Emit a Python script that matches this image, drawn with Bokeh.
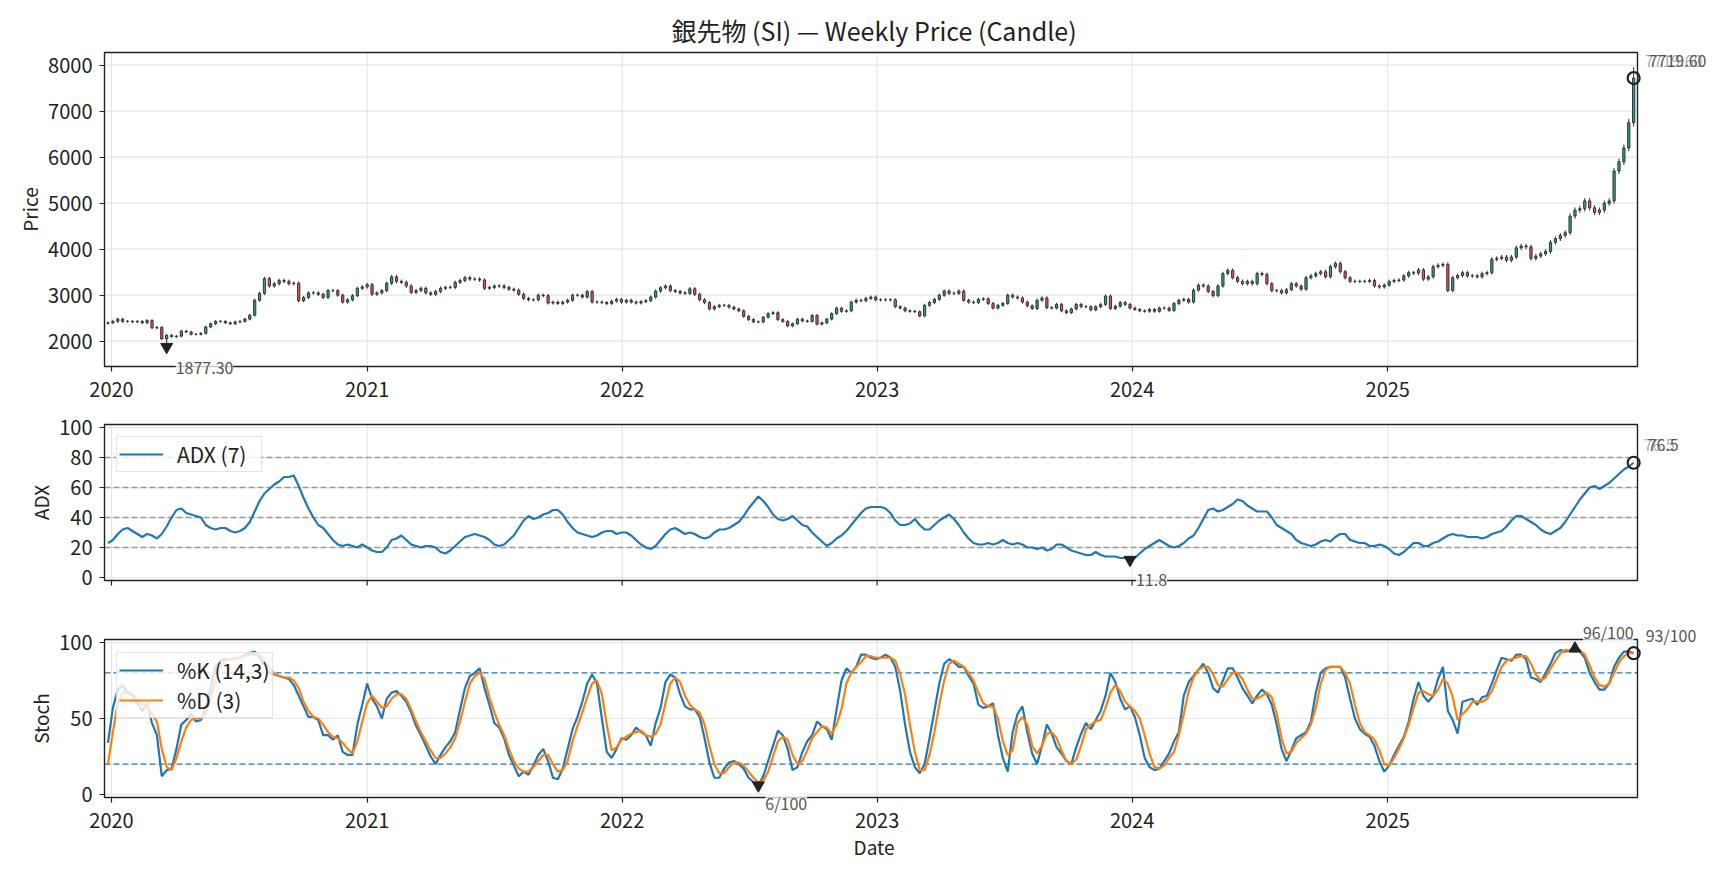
import math
import pandas as pd
from bokeh.plotting import figure
from bokeh.models import (Range1d, FixedTicker, Label, Legend, LegendItem, BoxAnnotation,
                          ColumnDataSource, DatetimeTickFormatter)
from bokeh.layouts import column
from bokeh.embed import file_html
from bokeh.resources import INLINE

FONT = "Noto Sans CJK JP"
TITLE = "銀先物 (SI) — Weekly Price (Candle)"
START_DATE = "2019-12-27"
year_labels = ["2020", "2021", "2022", "2023", "2024", "2025"]
price_ticks = [2000, 3000, 4000, 5000, 6000, 7000, 8000]
adx_ticks = [0, 20, 40, 60, 80, 100]
adx_levels = [20, 40, 60, 80]
stoch_ticks = [0, 50, 100]
stoch_levels = [20, 80]

# weekly closes
close = [
    2400, 2430, 2480, 2430, 2430, 2420, 2430, 2400, 2450, 2290, 2300,
    2050, 2130,
    2100, 2110, 2220, 2200, 2150, 2150, 2170, 2310, 2380, 2430, 2430, 2400, 2380, 2420, 2430, 2480, 2565,
    2890, 3040, 3360, 3200, 3250, 3320, 3300, 3250, 3260,
    2880, 2950, 3050, 3050, 3020, 2950, 3100, 3100, 3000, 2850, 2900, 2990, 3150, 3180, 3230,
    3020, 3050, 3100, 3260, 3400, 3300, 3280, 3200, 3060, 3100, 3150, 3050, 3020, 3080, 3150, 3170,
    3170, 3280, 3320, 3380, 3350, 3350, 3330,
    3150, 3170, 3200, 3200, 3170, 3130, 3110, 3020, 2930, 2900, 2900, 3000, 2990, 2830, 2850, 2820,
    2850, 2890, 3000, 3000,
    2960, 3080, 2850, 2850, 2840, 2820, 2870, 2910, 2850, 2890,
    2850, 2830, 2860, 2880, 2960, 3090, 3160, 3200, 3100, 3080,
    3050, 3040, 3140, 3020, 2900, 2840, 2700, 2750, 2780, 2780,
    2740, 2700, 2660, 2540, 2470, 2420, 2420, 2520, 2600, 2620,
    2470, 2430, 2330, 2380, 2480, 2440, 2430, 2560, 2370, 2400,
    2480, 2600, 2720, 2650, 2660, 2850, 2890, 2880, 2930, 2960,
    2900, 2900, 2900, 2900, 2750, 2720, 2660, 2650, 2640, 2550,
    2780, 2840, 2910, 3000, 3090, 3040, 3040, 3090, 2890, 2850,
    2840, 2910, 2920, 2820, 2720, 2780, 2820, 3000, 2960, 2940,
    2850, 2770, 2710, 2890, 2940, 2730, 2720, 2800, 2660, 2620,
    2700, 2800,
    2750, 2750, 2680, 2750, 2800, 2980, 2710, 2760, 2840, 2800,
    2720, 2690, 2660, 2650, 2690, 2650, 2720, 2720, 2670, 2820,
    2890, 2910, 2850, 3110, 3220, 3200, 3080, 2990, 3200, 3470,
    3540, 3380, 3300, 3250, 3300, 3250, 3470, 3450, 3250, 3100,
    3100, 3050, 3120, 3250, 3200, 3130, 3380, 3420, 3470, 3510,
    3400, 3620, 3690, 3510, 3380, 3300, 3300, 3300, 3300, 3320,
    3200, 3180, 3220, 3300, 3320, 3330, 3420, 3490, 3480, 3550,
    3350, 3400, 3620, 3650, 3670, 3100, 3380, 3430, 3490, 3420,
    3420, 3400, 3470, 3490, 3780, 3800, 3830, 3760, 3830, 4030,
    4070, 4050, 3800, 3850, 3900, 3950,
    4150, 4230, 4300, 4360, 4720, 4850, 4880, 5050, 4900, 4800,
    4850, 5000, 5050, 5700, 5900, 6200, 6750, 7719.60,
]
first_open = 2390
low_extreme = 1877.30
last_high = 7960
wick_frac = 0.012

adx = [
    23, 25, 29, 32, 33, 31, 29, 27, 29, 28,
    26, 29, 34, 40, 45, 46, 43, 42, 41, 40,
    35, 33, 32, 33, 33, 31, 30, 31, 33, 37,
    44, 51, 56, 59, 62, 64, 67, 67, 68, 61,
    53, 46, 40, 35, 33, 29, 25, 22, 21, 22,
    21, 20, 22, 20, 18, 17, 17, 20, 25, 26,
    28, 25, 22, 21, 20, 21, 21, 20, 17, 16,
    18, 21, 24, 27, 28, 29, 28, 27, 25, 22,
    21, 22, 25, 28, 33, 38, 41, 39, 40, 42,
    43, 45, 45, 42, 37, 33, 30, 29, 28, 27,
    28, 30, 31, 31, 29, 30, 30, 28, 25, 22,
    20, 19, 21, 25, 29, 32, 33, 31, 29, 30,
    29, 27, 26, 27, 30, 32, 32, 33, 35, 37,
    41, 46, 50, 54, 51, 47, 42, 39, 38, 39,
    41, 38, 35, 34, 30, 27, 24, 21, 23, 26,
    28, 31, 35, 39, 43, 46, 47, 47, 47, 46,
    43, 38, 35, 35, 36, 39, 35, 32, 32, 35,
    38, 40, 42, 39, 35, 30, 26, 23, 22, 22,
    23, 22, 23, 25, 23, 22, 23, 22, 20, 20,
    19, 20, 18, 19, 22, 22, 20, 18, 17, 16,
    15, 15, 17, 15, 14, 14, 14, 13, 13, 11.8,
    13, 16, 19, 21, 23, 25, 23, 21, 20, 21,
    23, 26, 28, 33, 39, 45, 46, 44, 45, 47,
    49, 52, 51, 48, 46, 44, 44, 44, 40, 35,
    33, 31, 29, 25, 23, 22, 21, 22, 24, 25,
    24, 27, 29, 29, 25, 24, 23, 23, 21, 21,
    22, 21, 19, 16, 15, 17, 20, 23, 23, 21,
    21, 23, 24, 26, 28, 29, 28, 28, 27, 27,
    27, 26, 27, 29, 30, 31, 34, 38, 41, 41,
    39, 37, 35, 32, 30, 29, 31, 33, 37, 42,
    47, 52, 56, 60, 61, 59, 61, 63, 66, 69,
    72, 74, 76.5,
]

stoch_k = [
    34, 57, 69, 72, 67, 65, 60, 55, 60, 47,
    39, 12, 16, 17, 30, 46, 49, 53, 48, 49,
    57, 70, 84, 88, 89, 89, 90, 90, 92, 93,
    94, 90, 85, 80, 79, 78, 77, 76, 72, 65,
    58, 51, 51, 49, 39, 39, 36, 39, 28, 26,
    26, 46, 59, 73, 63, 58, 50, 63, 67, 68,
    65, 61, 54, 45, 39, 32, 25, 20, 26, 31,
    35, 41, 56, 70, 78, 80, 83, 70, 59, 47,
    44, 37, 26, 19, 12, 15, 13, 19, 26, 30,
    22, 11, 10, 17, 30, 43, 51, 61, 73, 79,
    73, 50, 28, 24, 30, 37, 36, 39, 44, 41,
    39, 32, 47, 57, 74, 79, 77, 66, 58, 56,
    56, 51, 37, 21, 11, 11, 17, 21, 22, 20,
    17, 11, 8, 6, 12, 22, 32, 42, 39, 30,
    16, 18, 28, 35, 39, 48, 45, 43, 36, 56,
    75, 83, 80, 84, 92, 92, 90, 89, 90, 92,
    90, 84, 68, 46, 28, 18, 14, 20, 37, 55,
    73, 86, 89, 87, 84, 84, 78, 73, 59, 57,
    58, 60, 39, 24, 15, 41, 53, 58, 41, 27,
    20, 32, 46, 40, 31, 27, 22, 20, 31, 40,
    47, 43, 49, 55, 65, 80, 74, 63, 56, 58,
    51, 39, 24, 18, 16, 17, 22, 27, 35, 41,
    65, 74, 78, 82, 86, 80, 70, 67, 75, 83,
    83, 77, 70, 65, 60, 65, 69, 66, 59, 46,
    30, 22, 29, 37, 39, 41, 48, 67, 80, 83,
    84, 84, 84, 77, 63, 50, 43, 40, 38, 32,
    22, 15, 19, 26, 32, 38, 48, 63, 74, 65,
    61, 65, 76, 84, 55, 49, 40, 61, 62, 63,
    59, 64, 65, 73, 82, 90, 89, 88, 92, 92,
    89, 77, 76, 74, 80, 86, 93, 95, 94, 95,
    96, 94, 90, 80, 74, 69, 69, 73, 84, 90,
    94, 94, 93,
]

stoch_d = [
    20, 41, 60, 67, 68, 66, 63, 59, 58, 53,
    48, 30, 18, 16, 24, 35, 44, 49, 50, 50,
    53, 64, 75, 84, 88, 89, 89, 90, 91, 92,
    92, 92, 88, 84, 79, 78, 77, 77, 75, 70,
    61, 55, 51, 50, 46, 41, 38, 37, 34, 30,
    27, 35, 48, 60, 65, 61, 57, 58, 63, 66,
    66, 63, 56, 48, 41, 35, 29, 24, 24, 27,
    31, 37, 48, 61, 73, 78, 80, 76, 64, 54,
    46, 39, 30, 22, 17, 15, 15, 18, 22, 26,
    26, 20, 15, 16, 22, 35, 45, 54, 64, 73,
    75, 66, 46, 29, 31, 36, 38, 40, 41, 42,
    39, 38, 40, 46, 60, 73, 77, 74, 65, 59,
    56, 54, 46, 32, 20, 14, 14, 18, 21, 21,
    19, 15, 11, 8, 9, 15, 25, 35, 38, 36,
    26, 20, 22, 29, 37, 41, 45, 44, 40, 46,
    56, 73, 80, 84, 87, 91, 91, 90, 90, 90,
    90, 88, 79, 66, 46, 28, 16, 16, 26, 41,
    59, 75, 86, 88, 86, 84, 80, 75, 67, 60,
    58, 58, 50, 35, 26, 29, 47, 51, 46, 32,
    27, 32, 40, 41, 37, 29, 22, 20, 23, 32,
    43, 46, 48, 49, 57, 67, 72, 68, 61, 58,
    55, 50, 39, 27, 18, 17, 19, 24, 28, 39,
    53, 68, 77, 82, 84, 84, 79, 72, 71, 76,
    80, 80, 76, 69, 63, 63, 65, 67, 64, 53,
    37, 27, 28, 34, 37, 40, 46, 57, 73, 82,
    84, 84, 84, 80, 73, 59, 47, 41, 39, 36,
    29, 20, 19, 24, 30, 37, 46, 57, 67, 68,
    66, 65, 69, 76, 73, 64, 49, 53, 56, 61,
    61, 61, 63, 68, 76, 84, 88, 89, 90, 91,
    91, 86, 79, 75, 77, 83, 88, 93, 95, 95,
    96, 95, 92, 85, 77, 72, 71, 73, 80, 87,
    91, 93, 93,
]

# ---------------------------------------------------------------- data prep
n = len(close)
dates = pd.date_range(START_DATE, periods=n, freq="7D")
opens = [first_open] + close[:-1]
highs = [max(o, c) * (1 + wick_frac) for o, c in zip(opens, close)]
lows = [min(o, c) * (1 - wick_frac) for o, c in zip(opens, close)]
low_idx = min(range(n), key=lambda i: close[i]) + 1
lows[low_idx] = low_extreme
highs[-1] = last_high

UP, DOWN, EDGE = "#26a69a", "#ef5350", "#333333"
candles = ColumnDataSource(dict(
    x=dates, high=highs, low=lows,
    top=[max(o, c) for o, c in zip(opens, close)],
    bottom=[min(o, c) for o, c in zip(opens, close)],
    color=[UP if c >= o else DOWN for o, c in zip(opens, close)],
))


def ms(ts):
    return pd.Timestamp(ts).value / 1e6


# ---------------------------------------------------------------- layout geometry
FIG_W = 1718                      # frame covers the whole figure width
BOX_X0, BOX_X1 = 104, 1637         # plot box inside the frame (px from frame left)
BOX_L_T = ms("2019-12-22")
BOX_R_T = ms("2025-12-24 12:00")
ms_per_px = (BOX_R_T - BOX_L_T) / (BOX_X1 - BOX_X0)
x_range = Range1d(start=BOX_L_T - BOX_X0 * ms_per_px,
                  end=BOX_R_T + (FIG_W - BOX_X1) * ms_per_px)
year_ms = [ms(f"{y}-01-01") for y in year_labels]
MID_T = (BOX_L_T + BOX_R_T) / 2

GRID = "#e6e6e6"
DARK = "#222222"
ANN = "#555555"
LIGHT_ANN = "#b0b0b0"


def y_extent(lo, hi, box_top, box_bot, fr_top, fr_bot):
    u = (hi - lo) / (box_bot - box_top)
    return hi + (box_top - fr_top) * u, lo - (fr_bot - box_bot) * u, u


def make_fig(frame_h, border_top, lo, hi, y_rng, yticks, show_x):
    p = figure(frame_width=FIG_W, frame_height=frame_h, x_range=x_range,
               y_range=Range1d(y_rng[1], y_rng[0]), x_axis_type="datetime",
               output_backend="svg", toolbar_location=None,
               min_border_left=0, min_border_right=0, min_border_top=border_top,
               min_border_bottom=0)
    p.background_fill_color = "white"
    p.border_fill_color = "white"
    p.outline_line_color = None
    p.xgrid.visible = False
    p.ygrid.visible = False
    # grid lines limited to the plot box
    p.segment(x0=[BOX_L_T] * len(yticks), x1=[BOX_R_T] * len(yticks), y0=yticks, y1=yticks,
              line_color=GRID, line_width=1.2)
    p.segment(x0=year_ms, x1=year_ms, y0=[lo] * len(year_ms), y1=[hi] * len(year_ms),
              line_color=GRID, line_width=1.2)
    p.yaxis.ticker = FixedTicker(ticks=yticks)
    p.yaxis.fixed_location = BOX_L_T
    p.yaxis.bounds = (lo, hi)
    p.yaxis.major_label_standoff = 7
    axes = [p.yaxis]
    if show_x:
        p.xaxis.ticker = FixedTicker(ticks=year_ms)
        p.xaxis.formatter = DatetimeTickFormatter(years="%Y", months="%Y", days="%Y",
                                                  hours="%Y", minutes="%Y", seconds="%Y")
        p.xaxis.fixed_location = lo
        p.xaxis.bounds = (BOX_L_T, BOX_R_T)
        p.xaxis.major_label_standoff = 10
        axes.append(p.xaxis)
    else:
        p.xaxis.visible = False
        p.segment(x0=year_ms, x1=year_ms, y0=[lo] * len(year_ms),
                  y1=[lo - 5 * y_rng[2]] * len(year_ms), line_color=DARK, line_width=1.2)
    for ax in axes:
        ax.axis_line_color = None
        ax.major_tick_line_color = DARK
        ax.major_tick_line_width = 1.2
        ax.major_tick_out = 5
        ax.major_tick_in = 0
        ax.minor_tick_line_color = None
        ax.major_label_text_font = FONT
        ax.major_label_text_font_size = "20px"
        ax.major_label_text_color = DARK
    p.add_layout(BoxAnnotation(left=BOX_L_T, right=BOX_R_T, bottom=lo, top=hi,
                               fill_alpha=0, line_color=DARK, line_width=1.4, line_alpha=1))
    return p


def add_label(p, x, y, text, dx, dy, color=ANN, bg=None, size="16px", angle=0.0,
              align="left"):
    lab = Label(x=x, y=y, text=text, x_offset=dx, y_offset=dy, angle=angle,
                text_font=FONT, text_font_size=size, text_color=color,
                text_baseline="middle", text_align=align)
    if bg:
        lab.background_fill_color = bg
        lab.background_fill_alpha = 0.75
    p.add_layout(lab)


def axis_title(p, text, x, y, dx, dy, angle):
    add_label(p, x, y, text, dx, dy, color=DARK, size="19px", angle=angle, align="center")


# price box 54..368 (frame 50..408); adx box 426..582 (frame 408..618); stoch box 641..799 (frame 618..866)
P_LO, P_HI = 1450, 8276
A_LO, A_HI = -2, 102
S_LO, S_HI = -2, 102
p_rng = y_extent(P_LO, P_HI, 54, 368, 50, 408)
a_rng = y_extent(A_LO, A_HI, 426, 582, 408, 618)
s_rng = y_extent(S_LO, S_HI, 641, 799, 618, 866)

# ---------------------------------------------------------------- price panel
p1 = make_fig(358, 48, P_LO, P_HI, p_rng, price_ticks, True)
p1.title.text = TITLE
p1.title.align = "left"
p1.title.offset = 671
p1.title.text_font = FONT
p1.title.text_font_size = "25px"
p1.title.text_font_style = "normal"
p1.title.text_color = DARK
p1.title.standoff = 1
axis_title(p1, "Price", BOX_L_T, (P_LO + P_HI) / 2, -75, 0, math.pi / 2)

p1.segment(x0="x", y0="low", x1="x", y1="high", source=candles, line_color=EDGE, line_width=1)
p1.vbar(x="x", top="top", bottom="bottom", width=3.2 * 86400000, source=candles,
        fill_color="color", line_color=EDGE, line_width=1)

p1.scatter(x=[dates[low_idx]], y=[lows[low_idx]], marker="inverted_triangle", size=12,
           color=DARK)
p1.scatter(x=[dates[-1]], y=[close[-1]], marker="circle", size=12, fill_color=None,
           line_color=DARK, line_width=2.2)
add_label(p1, ms(dates[low_idx]), lows[low_idx], f"{lows[low_idx]:.2f}", 9, -21, bg="white")
add_label(p1, ms(dates[-1]), close[-1], f"{close[-1]:.2f}", 11, 17, color=LIGHT_ANN)
add_label(p1, ms(dates[-1]), close[-1], f"{close[-1]:.2f}", 15, 17)

# ---------------------------------------------------------------- ADX panel
p2 = make_fig(210, 0, A_LO, A_HI, a_rng, adx_ticks, False)
axis_title(p2, "ADX", BOX_L_T, (A_LO + A_HI) / 2, -64, 0, math.pi / 2)
n_lv = len(adx_levels)
p2.segment(x0=[BOX_L_T] * n_lv, x1=[BOX_R_T] * n_lv, y0=adx_levels, y1=adx_levels,
           line_color="#999999", line_dash="6 3", line_width=1.4)
r_adx = p2.line(dates, adx, line_color="#1f77b4", line_width=2.2)
a_min = min(range(n), key=lambda i: adx[i])
p2.scatter(x=[dates[a_min]], y=[adx[a_min]], marker="inverted_triangle", size=12, color=DARK)
p2.scatter(x=[dates[-1]], y=[adx[-1]], marker="circle", size=12, fill_color=None,
           line_color=DARK, line_width=2.2)
add_label(p2, ms(dates[a_min]), adx[a_min], f"{adx[a_min]:.1f}", 6, -20, bg="white")
add_label(p2, ms(dates[-1]), adx[-1], f"{adx[-1]:.1f}", 10, 18, color=LIGHT_ANN)
add_label(p2, ms(dates[-1]), adx[-1], f"{adx[-1]:.1f}", 14, 18)
# legend: bottom-left corner given in px from the frame's bottom-left
leg2 = Legend(items=[LegendItem(label="ADX (7)", renderers=[r_adx])], location=(116, 144))
p2.add_layout(leg2)

# ---------------------------------------------------------------- Stoch panel
p3 = make_fig(248, 0, S_LO, S_HI, s_rng, stoch_ticks, True)
axis_title(p3, "Stoch", BOX_L_T, (S_LO + S_HI) / 2, -64, 0, math.pi / 2)
axis_title(p3, "Date", MID_T, S_LO, 3, -49, 0.0)
n_sl = len(stoch_levels)
p3.segment(x0=[BOX_L_T] * n_sl, x1=[BOX_R_T] * n_sl, y0=stoch_levels, y1=stoch_levels,
           line_color="#1f77b4", line_dash="6 3", line_width=1.4)
r_k = p3.line(dates, stoch_k, line_color="#1f77b4", line_width=2.2)
r_d = p3.line(dates, stoch_d, line_color="#ff7f0e", line_width=2.2)
k_min = min(range(n), key=lambda i: stoch_k[i])
k_max = max(range(n), key=lambda i: stoch_k[i])
p3.scatter(x=[dates[k_min]], y=[stoch_k[k_min]], marker="inverted_triangle", size=12, color=DARK)
p3.scatter(x=[dates[k_max]], y=[stoch_k[k_max]], marker="triangle", size=12, color=DARK)
p3.scatter(x=[dates[-1]], y=[stoch_k[-1]], marker="circle", size=12, fill_color=None,
           line_color=DARK, line_width=2.2)
add_label(p3, ms(dates[k_min]), stoch_k[k_min], f"{stoch_k[k_min]:.0f}/100", 7, -18, bg="white")
add_label(p3, ms(dates[k_max]), stoch_k[k_max], f"{stoch_k[k_max]:.0f}/100", 8, 17, bg="white")
add_label(p3, ms(dates[-1]), stoch_k[-1], f"{stoch_k[-1]:.0f}/100", 12, 18)
leg3 = Legend(items=[LegendItem(label="%K (14,3)", renderers=[r_k]),
                     LegendItem(label="%D (3)", renderers=[r_d])], location=(116, 146))
p3.add_layout(leg3)

for leg in (leg2, leg3):
    leg.label_text_font = FONT
    leg.label_text_font_size = "21px"
    leg.label_text_color = DARK
    leg.glyph_width = 44
    leg.glyph_height = 22
    leg.label_height = 22
    leg.label_width = 82
    leg.label_standoff = 14
    leg.padding = 2
    leg.spacing = 0
    leg.margin = 0
    leg.border_line_color = "#cccccc"
    leg.border_line_width = 1
    leg.background_fill_color = "white"
    leg.background_fill_alpha = 0.8

layout = column(p1, p2, p3)
open("out.html", "w").write(file_html(layout, INLINE))
